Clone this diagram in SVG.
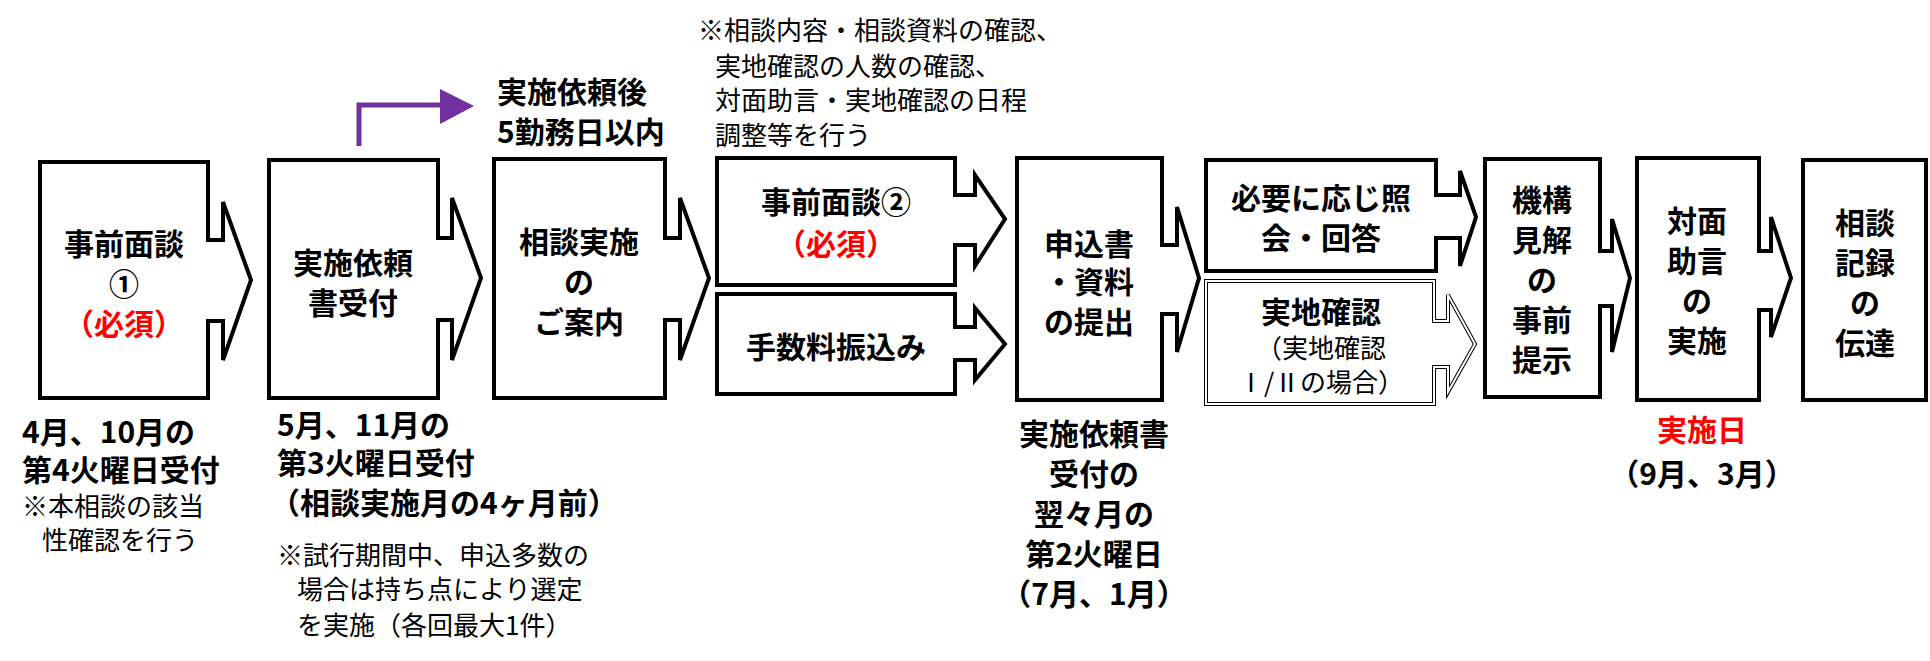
<svg xmlns="http://www.w3.org/2000/svg" width="1930" height="661" viewBox="0 0 1930 661">
<style>
.b{fill:#fff;stroke:#000;stroke-width:4;stroke-linejoin:miter}
.t{font-family:"Noto Sans CJK JP","Noto Sans",sans-serif;font-weight:bold;font-size:30px;fill:#000}
.c{text-anchor:middle}
.r{fill:#ff0000}
.n{font-family:"Noto Sans CJK JP","Noto Sans",sans-serif;font-size:26px;fill:#000}
</style>
<rect width="1930" height="661" fill="#fff"/>
<g id="connectors">
<path d="M359,146 V105 H445" fill="none" stroke="#7030A0" stroke-width="5"/>
<polygon points="440,89 474,106 440,124" fill="#7030A0"/>
</g>
<g id="n1"><polygon class="b" points="40,162 208,162 208,240 223,240 223,202 251,280 223,360 223,321 208,321 208,398 40,398"/>
<text class="t c" x="124" y="255">事前面談</text><text class="t c" x="124" y="295">①</text><text class="t c r" x="124" y="335">（必須）</text></g>
<g id="n2"><polygon class="b" points="269,160 438,160 438,238 452,238 452,198 481,278 452,360 452,320 438,320 438,398 269,398"/>
<text class="t c" x="353" y="274">実施依頼</text><text class="t c" x="353" y="314">書受付</text></g>
<g id="n3"><polygon class="b" points="494,159 665,159 665,238 680,238 680,198 709,278 680,360 680,320 665,320 665,398 494,398"/>
<text class="t c" x="579" y="253">相談実施</text><text class="t c" x="579" y="293">の</text><text class="t c" x="579" y="333">ご案内</text></g>
<g id="n4a"><polygon class="b" points="717,158 955,158 955,195 975,195 975,175 1005,219 975,266 975,245 955,245 955,285 717,285"/>
<text class="t c" x="836" y="213">事前面談②</text><text class="t c r" x="836" y="255">（必須）</text></g>
<g id="n4b"><polygon class="b" points="717,294 955,294 955,327 975,327 975,308 1005,344 975,380 975,360 955,360 955,394 717,394"/>
<text class="t c" x="836" y="358">手数料振込み</text></g>
<g id="n5"><polygon class="b" points="1017,158 1162,158 1162,245 1177,245 1177,207 1199,278 1177,352 1177,314 1162,314 1162,400 1017,400"/>
<text class="t c" x="1089" y="255">申込書</text><text class="t c" x="1089" y="293">・資料</text><text class="t c" x="1089" y="333">の提出</text></g>
<g id="n6a"><polygon class="b" points="1206,160 1436,160 1436,195 1460,195 1460,171 1476,217 1460,266 1460,238 1436,238 1436,271 1206,271"/>
<text class="t c" x="1321" y="209">必要に応じ照</text><text class="t c" x="1321" y="249">会・回答</text></g>
<g id="n6b"><polygon class="b" stroke-width="7" points="1206,281 1434,281 1434,321 1448,321 1448,295 1475,344 1448,392 1448,367 1434,367 1434,404 1206,404"/>
<polygon points="1206,281 1434,281 1434,321 1448,321 1448,295 1475,344 1448,392 1448,367 1434,367 1434,404 1206,404" fill="none" stroke="#fff" stroke-width="2"/>
<text class="t c" x="1321" y="323">実地確認</text><text class="n c" x="1321" y="358">（実地確認</text><text class="n c" x="1321" y="392">Ⅰ/Ⅱの場合）</text></g>
<g id="n7"><polygon class="b" points="1485,159 1600,159 1600,251 1612,251 1612,219 1630,278 1612,352 1612,306 1600,306 1600,397 1485,397"/>
<text class="t c" x="1542" y="211">機構</text><text class="t c" x="1542" y="251">見解</text><text class="t c" x="1542" y="291">の</text><text class="t c" x="1542" y="331">事前</text><text class="t c" x="1542" y="371">提示</text></g>
<g id="n8"><polygon class="b" points="1637,158 1759,158 1759,251 1771,251 1771,217 1791,278 1771,337 1771,310 1759,310 1759,400 1637,400"/>
<text class="t c" x="1697" y="232">対面</text><text class="t c" x="1697" y="272">助言</text><text class="t c" x="1697" y="312">の</text><text class="t c" x="1697" y="352">実施</text></g>
<g id="n9"><rect class="b" x="1803" y="160" width="123" height="240"/>
<text class="t c" x="1865" y="234">相談</text><text class="t c" x="1865" y="274">記録</text><text class="t c" x="1865" y="314">の</text><text class="t c" x="1865" y="354">伝達</text></g>
<g id="labels">
<text class="t" x="497" y="103">実施依頼後</text><text class="t" x="497" y="143">5勤務日以内</text>
<text class="n" x="698" y="40">※相談内容・相談資料の確認、</text>
<text class="n" x="715" y="76">実地確認の人数の確認、</text>
<text class="n" x="715" y="110">対面助言・実地確認の日程</text>
<text class="n" x="715" y="145">調整等を行う</text>
<text class="t" x="22" y="443">4月、10月の</text><text class="t" x="22" y="481">第4火曜日受付</text>
<text class="n" x="22" y="516">※本相談の該当</text><text class="n" x="42" y="550">性確認を行う</text>
<text class="t" x="277" y="436">5月、11月の</text><text class="t" x="277" y="474">第3火曜日受付</text>
<text class="t" x="270" y="514">（相談実施月の4ヶ月前）</text>
<text class="n" x="277" y="565">※試行期間中、申込多数の</text>
<text class="n" x="297" y="599">場合は持ち点により選定</text>
<text class="n" x="297" y="635">を実施（各回最大1件）</text>
<text class="t c" x="1094" y="445">実施依頼書</text><text class="t c" x="1094" y="485">受付の</text><text class="t c" x="1094" y="525">翌々月の</text><text class="t c" x="1094" y="565">第2火曜日</text><text class="t c" x="1094" y="605">（7月、1月）</text>
<text class="t c r" x="1702" y="441">実施日</text><text class="t c" x="1702" y="485">（9月、3月）</text>
</g>
</svg>
